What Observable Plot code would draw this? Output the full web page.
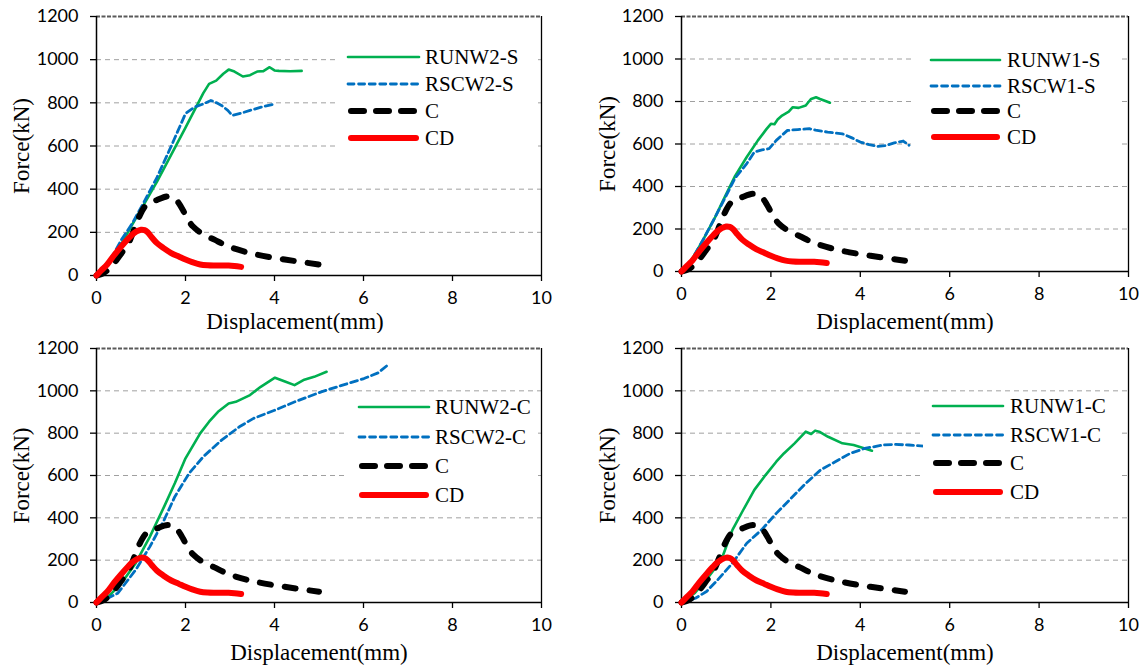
<!DOCTYPE html>
<html><head><meta charset="utf-8">
<script src="https://cdn.jsdelivr.net/npm/d3@7"></script>
<script src="https://cdn.jsdelivr.net/npm/@observablehq/plot@0.6"></script>
<style>
body{margin:0;background:#fff}
#root{position:relative;width:1144px;height:666px;overflow:hidden;background:#fff}
.panel{position:absolute}
</style>
</head><body><div id="root"></div>
<script>
// ---- shared curves ----
const cX  = [0, 0.15, 0.3, 0.4, 0.55, 0.72, 0.85, 0.96, 1.12, 1.36, 1.6, 1.75, 1.85, 1.95, 2.05, 2.17, 2.4, 2.65, 2.85, 3.05, 3.45, 3.93, 4.49, 5.0];
const cY  = [0, 10, 35, 58, 100, 150, 215, 273, 327, 350, 366, 358, 335, 300, 260, 227, 190, 166, 145, 128, 104, 84, 66, 51];
const cdX = [0, 0.1, 0.24, 0.4, 0.56, 0.7, 0.8, 0.9, 1.0, 1.08, 1.15, 1.25, 1.36, 1.5, 1.68, 1.85, 2.0, 2.15, 2.33, 2.5, 2.65, 2.8, 2.97, 3.1, 3.25];
const cdY = [0, 22, 51, 95, 135, 168, 189, 204, 212, 210, 200, 175, 150, 128, 104, 88, 74, 62, 51, 47, 46, 46, 46, 44, 40];

// ---- panel 1: RUNW2-S / RSCW2-S ----
const gX1 = [0, 0.2, 0.4, 0.6, 0.8, 1.04, 1.36, 1.68, 2.0, 2.2, 2.4, 2.53, 2.69, 2.85, 2.97, 3.1, 3.29, 3.45, 3.61, 3.75, 3.89, 4.0, 4.1, 4.35, 4.61];
const gY1 = [0, 40, 95, 160, 235, 320, 435, 560, 685, 765, 845, 888, 903, 935, 954, 945, 922, 928, 945, 947, 965, 950, 948, 946, 948];
const bX1 = [0, 0.2, 0.4, 0.56, 0.8, 1.04, 1.36, 1.68, 2.0, 2.2, 2.4, 2.57, 2.7, 2.81, 2.95, 3.05, 3.25, 3.45, 3.7, 3.97];
const bY1 = [0, 45, 105, 166, 240, 330, 455, 600, 750, 780, 795, 811, 800, 788, 765, 742, 752, 765, 780, 793];
// ---- panel 2: RUNW1-S / RSCW1-S ----
const gX2 = [0, 0.2, 0.48, 0.75, 0.97, 1.2, 1.46, 1.71, 1.9, 2.0, 2.08, 2.15, 2.25, 2.4, 2.49, 2.62, 2.78, 2.85, 2.9, 3.01, 3.1, 3.19, 3.25, 3.32];
const gY2 = [0, 45, 148, 255, 351, 450, 539, 617, 670, 695, 693, 715, 734, 752, 773, 770, 781, 800, 812, 820, 812, 805, 800, 794];
const bX2 = [0, 0.2, 0.48, 0.75, 0.97, 1.2, 1.46, 1.63, 1.8, 1.96, 2.12, 2.37, 2.6, 2.86, 3.0, 3.27, 3.6, 3.8, 4.0, 4.2, 4.39, 4.55, 4.76, 4.96, 5.09];
const bY2 = [0, 45, 148, 255, 345, 440, 508, 562, 572, 578, 617, 664, 668, 672, 665, 656, 648, 630, 609, 597, 589, 592, 605, 614, 594];
// ---- panel 3: RUNW2-C / RSCW2-C ----
const gX3 = [0, 0.3, 0.56, 0.88, 1.2, 1.52, 1.76, 2.0, 2.33, 2.53, 2.73, 2.97, 3.13, 3.45, 3.69, 4.01, 4.25, 4.45, 4.65, 4.89, 5.17];
const gY3 = [0, 35, 91, 186, 311, 453, 563, 681, 799, 854, 901, 940, 948, 980, 1019, 1062, 1043, 1027, 1051, 1066, 1090];
const bX3 = [0, 0.2, 0.48, 0.88, 1.2, 1.52, 1.76, 2.08, 2.4, 2.81, 3.21, 3.53, 4.01, 4.49, 5.05, 5.53, 6.01, 6.33, 6.54];
const bY3 = [0, 15, 44, 154, 264, 390, 500, 610, 689, 767, 830, 870, 909, 951, 995, 1027, 1058, 1085, 1121];
// ---- panel 4: RUNW1-C / RSCW1-C ----
const gX4 = [0, 0.3, 0.6, 0.89, 1.14, 1.38, 1.63, 1.88, 2.12, 2.29, 2.53, 2.78, 2.9, 2.99, 3.1, 3.28, 3.6, 3.85, 4.1, 4.26];
const gY4 = [0, 45, 120, 201, 343, 437, 532, 602, 665, 704, 752, 807, 796, 812, 805, 783, 752, 744, 728, 717];
const bX4 = [0, 0.31, 0.56, 0.81, 1.14, 1.46, 1.79, 2.12, 2.45, 2.78, 3.11, 3.44, 3.77, 4.1, 4.51, 4.76, 5.09, 5.42];
const bY4 = [0, 20, 52, 107, 186, 280, 343, 421, 492, 563, 626, 665, 704, 728, 744, 747, 744, 739];

const xTicks = [0, 2, 4, 6, 8, 10];
const yTicks = [0, 200, 400, 600, 800, 1000, 1200];
const gridTicks = [200, 400, 600, 800, 1000];
const xTitle = "Displacement(mm)";
const yTitle = "Force(kN)";
const legendNames = [
  ["RUNW2-S", "RSCW2-S", "C", "CD"],
  ["RUNW1-S", "RSCW1-S", "C", "CD"],
  ["RUNW2-C", "RSCW2-C", "C", "CD"],
  ["RUNW1-C", "RSCW1-C", "C", "CD"]
];

const zip = (xs, ys) => xs.map((x, i) => ({x, y: ys[i]}));

const styles = [
  {stroke: "#00B050", strokeWidth: 2.6, dash: null, curve: "linear"},
  {stroke: "#0070C0", strokeWidth: 2.8, dash: "7,4", curve: "linear"},
  {stroke: "#000000", strokeWidth: 6, dash: "11,14", curve: "catmull-rom"},
  {stroke: "#FF0000", strokeWidth: 6, dash: null, curve: "catmull-rom"}
];

const panels = [
  {left: 0, top: 0, ml: 96, mr: 31, mt: 16, mb: 58, g: zip(gX1, gY1), b: zip(bX1, bY1), xdx: -24, xdy: 46, ydx: -74.5,
   leg: {box: [336, 38, 202, 120], lx: [348, 419], tx: 425, rows: [57, 84, 111, 138]}},
  {left: 572, top: 0, ml: 109, mr: 16, mt: 16, mb: 62, g: zip(gX2, gY2), b: zip(bX2, bY2), xdx: 0, xdy: 50, ydx: -74,
   leg: {box: [342, 38, 204, 120], lx: [359, 428], tx: 435, rows: [60, 86, 111, 137]}},
  {left: 0, top: 333, ml: 96, mr: 31, mt: 15, mb: 64, g: zip(gX3, gY3), b: zip(bX3, bY3), xdx: 0, xdy: 50, ydx: -74.5,
   leg: {box: [345, 62, 193, 120], lx: [359, 429], tx: 435, rows: [74, 104, 133, 162]}},
  {left: 572, top: 333, ml: 109, mr: 16, mt: 15, mb: 64, g: zip(gX4, gY4), b: zip(bX4, bY4), xdx: 0, xdy: 50, ydx: -74,
   leg: {box: [351, 62, 195, 120], lx: [361, 431], tx: 438, rows: [73, 102, 130, 159]}}
];

const root = document.getElementById("root");
panels.forEach((p, k) => {
  const series = [p.g, p.b, zip(cX, cY), zip(cdX, cdY)];
  const W = 572, H = 333;
  const plot = Plot.plot({
    width: W, height: H,
    marginLeft: p.ml, marginRight: p.mr, marginTop: p.mt, marginBottom: p.mb,
    x: {domain: [0, 10]},
    y: {domain: [0, 1200]},
    style: {fontFamily: "Liberation Serif", background: "white", color: "black", overflow: "visible"},
    marks: [
      Plot.ruleY(gridTicks, {stroke: "#a0a0a0", strokeWidth: 1, strokeDasharray: "5,4"}),
      Plot.ruleY([1200], {stroke: "#5a5a5a", strokeWidth: 2, strokeDasharray: "4,1.5"}),
      Plot.ruleX([10], {stroke: "black", strokeWidth: 1.3}),
      Plot.axisY({ticks: yTicks, tickFormat: d => String(d), tickSize: 6, tickPadding: 12, fontSize: 18, fontFamily: "Lato", label: null, stroke: "black", strokeWidth: 1.3}),
      Plot.axisX({ticks: xTicks, tickFormat: d => String(d), tickSize: 6, tickPadding: 10, fontSize: 18, fontFamily: "Lato", label: null, stroke: "black", strokeWidth: 1.3}),
      Plot.ruleX([0], {stroke: "black", strokeWidth: 1.5}),
      Plot.ruleY([0], {stroke: "black", strokeWidth: 1.5}),
      ...series.map((d, i) => Plot.line(d, {
        x: "x", y: "y", stroke: styles[i].stroke, strokeWidth: styles[i].strokeWidth,
        strokeDasharray: styles[i].dash, strokeLinecap: "round", strokeLinejoin: "round",
        curve: styles[i].curve
      })),
      Plot.text([yTitle], {frameAnchor: "left", dx: p.ydx, rotate: -90, fontSize: 23, fontFamily: "Liberation Serif", textAnchor: "middle", lineAnchor: "middle", fill: "black"}),
      Plot.text([xTitle], {frameAnchor: "bottom", dx: p.xdx, dy: p.xdy, fontSize: 23, fontFamily: "Liberation Serif", textAnchor: "middle", lineAnchor: "middle", fill: "black"})
    ]
  });
  const div = document.createElement("div");
  div.className = "panel";
  div.style.left = p.left + "px";
  div.style.top = p.top + "px";
  div.appendChild(plot);
  root.appendChild(div);

  // legend (Excel-style, drawn on top with a white background)
  const svg = d3.select(plot);
  const L = p.leg;
  const g = svg.append("g").attr("class", "legend").attr("text-anchor", "start");
  g.append("rect").attr("x", L.box[0]).attr("y", L.box[1]).attr("width", L.box[2]).attr("height", L.box[3]).attr("fill", "white");
  legendNames[k].forEach((name, i) => {
    const s = styles[i];
    g.append("line")
      .attr("x1", L.lx[0] + (i >= 2 ? 3 : 0)).attr("x2", L.lx[1] - (i >= 2 ? 3 : 0))
      .attr("y1", L.rows[i]).attr("y2", L.rows[i])
      .attr("stroke", s.stroke).attr("stroke-width", s.strokeWidth)
      .attr("stroke-dasharray", s.dash ? (i === 2 ? "13,12" : "6,4.6") : null)
      .attr("stroke-linecap", "round");
    g.append("text").attr("x", L.tx).attr("y", L.rows[i] + 7)
      .attr("text-anchor", "start")
      .attr("font-family", "Liberation Serif").attr("font-size", 21).attr("fill", "black")
      .text(name);
  });
});
</script>
</body></html>
